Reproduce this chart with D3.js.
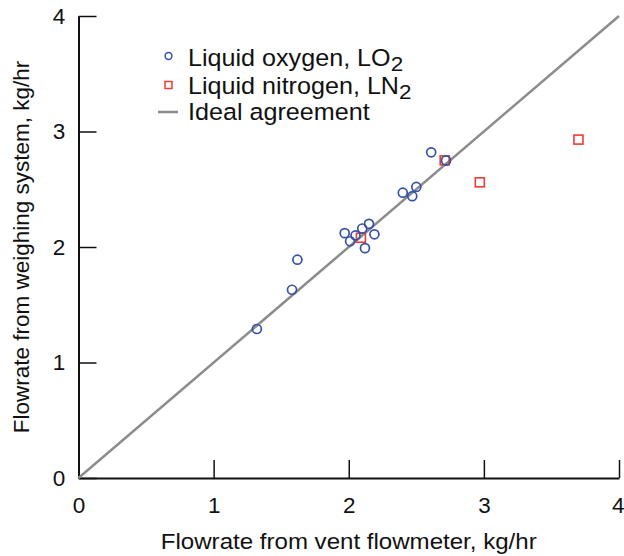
<!DOCTYPE html>
<html>
<head>
<meta charset="utf-8">
<script src="https://cdn.jsdelivr.net/npm/d3@7/dist/d3.min.js"></script>
<style>
  body { margin: 0; background: #fff; }
  svg { display: block; font-family: Arial, "Liberation Sans", Helvetica, sans-serif; }
</style>
</head>
<body>
<svg id="chart" width="624" height="556"></svg>
<script>
// Vent flowmeter reading (x) vs weighing-system reading (y), kg/hr
const oxygenX = [1.32, 1.58, 1.62, 1.97, 2.01, 2.05, 2.10, 2.12, 2.15, 2.19, 2.40, 2.47, 2.50, 2.61, 2.72];
const oxygenY = [1.29, 1.63, 1.89, 2.12, 2.05, 2.10, 2.16, 1.99, 2.20, 2.11, 2.47, 2.44, 2.52, 2.82, 2.75];
const nitrogenX = [2.09, 2.71, 2.97, 3.70];
const nitrogenY = [2.08, 2.75, 2.56, 2.93];
const idealLine = [0, 4];
const tickValues = [0, 1, 2, 3, 4];
const legendLabels = ["Liquid oxygen, LO", "Liquid nitrogen, LN", "Ideal agreement"];

const svg = d3.select("#chart");

const x = d3.scaleLinear().domain([0, 4]).range([78.5, 619]);
const y = d3.scaleLinear().domain([0, 4]).range([478, 16]);

const textColor = "#111";
const fontSize = 22.5;
const stretch = 1.07; // slightly wide lettering for horizontal text

// Axes with inward ticks
const xAxis = d3.axisBottom(x).tickValues(tickValues).tickFormat(d3.format("d"))
  .tickSizeInner(-18).tickSizeOuter(0).tickPadding(19);
const yAxis = d3.axisLeft(y).tickValues(tickValues).tickFormat(d3.format("d"))
  .tickSizeInner(-18).tickSizeOuter(0).tickPadding(19.5);

const gx = svg.append("g").attr("transform", `translate(0,${y(0)})`).call(xAxis);
const gy = svg.append("g").attr("transform", `translate(${x(0)},0)`).call(yAxis);

[gx, gy].forEach(g => {
  g.select(".domain").attr("stroke", textColor).attr("stroke-width", 2);
  g.selectAll(".tick line").attr("stroke", textColor).attr("stroke-width", 1.5);
  g.selectAll(".tick text").attr("fill", textColor).attr("font-size", fontSize)
    .attr("font-family", "Arial, 'Liberation Sans', sans-serif");
});
gy.selectAll(".tick text").attr("text-anchor", "middle");
// keep the last x label inside the canvas edge
gx.selectAll(".tick text").filter(d => d === 4).attr("text-anchor", "end").attr("dx", 5);

// Ideal agreement line y = x
svg.append("line")
  .attr("x1", x(idealLine[0])).attr("y1", y(idealLine[0]))
  .attr("x2", x(idealLine[1])).attr("y2", y(idealLine[1]))
  .attr("stroke", "#8c8c8c").attr("stroke-width", 2.5);

// Liquid nitrogen squares
const sq = 9;
svg.append("g").selectAll("rect").data(d3.range(nitrogenX.length)).join("rect")
  .attr("x", i => x(nitrogenX[i]) - sq / 2)
  .attr("y", i => y(nitrogenY[i]) - sq / 2)
  .attr("width", sq).attr("height", sq)
  .attr("fill", "none").attr("stroke", "#ee3b33").attr("stroke-width", 1.6);

// Liquid oxygen circles
svg.append("g").selectAll("circle").data(d3.range(oxygenX.length)).join("circle")
  .attr("cx", i => x(oxygenX[i]))
  .attr("cy", i => y(oxygenY[i]))
  .attr("r", 4.5)
  .attr("fill", "none").attr("stroke", "#3552a8").attr("stroke-width", 1.7);

// Legend
const lg = svg.append("g");
lg.append("circle").attr("cx", 168.5).attr("cy", 56).attr("r", 3.4)
  .attr("fill", "none").attr("stroke", "#3552a8").attr("stroke-width", 1.5);
lg.append("rect").attr("x", 165).attr("y", 81.5).attr("width", 7).attr("height", 7)
  .attr("fill", "none").attr("stroke", "#ee3b33").attr("stroke-width", 1.5);
lg.append("line").attr("x1", 158).attr("x2", 178).attr("y1", 112).attr("y2", 112)
  .attr("stroke", "#8c8c8c").attr("stroke-width", 2.5);

const baselines = [66, 94, 120];
legendLabels.forEach((lab, i) => {
  const t = lg.append("text")
    .attr("transform", `translate(188,${baselines[i]}) scale(${stretch},1)`)
    .attr("font-size", 23.5).attr("fill", textColor).text(lab);
  if (i < 2) {
    t.append("tspan").attr("dy", 5).attr("font-size", 21).text("2");
  }
});

// Axis titles
svg.append("text")
  .attr("transform", `translate(${(x(0) + x(4)) / 2},549) scale(${stretch},1)`)
  .attr("text-anchor", "middle").attr("font-size", fontSize).attr("fill", textColor)
  .text("Flowrate from vent flowmeter, kg/hr");

svg.append("text")
  .attr("transform", `translate(29,${(y(0) + y(4)) / 2}) rotate(-90)`)
  .attr("text-anchor", "middle").attr("font-size", fontSize).attr("fill", textColor)
  .text("Flowrate from weighing system, kg/hr");
</script>
</body>
</html>
